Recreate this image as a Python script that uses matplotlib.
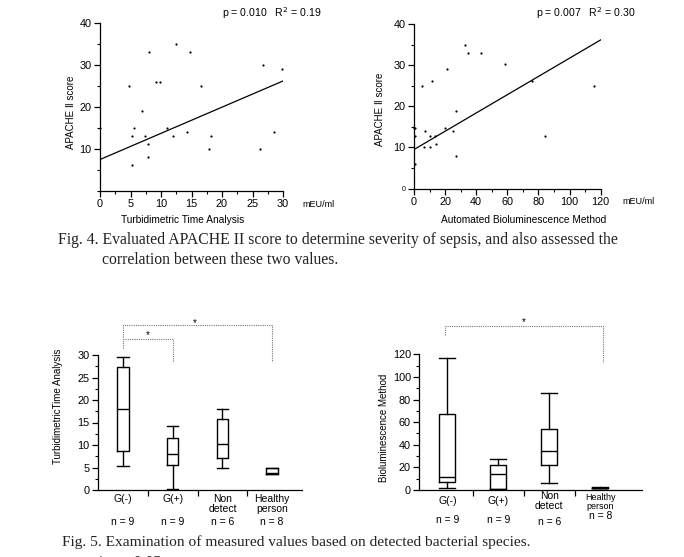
import matplotlib.pyplot as plt
import matplotlib.transforms as mtransforms
from matplotlib.ticker import MultipleLocator
import numpy as np

plt.rcParams['font.family'] = ['Liberation Sans', 'DejaVu Sans']

W, H = 684, 557

# --- Fig. 4 data: turbidimetric time analysis vs APACHE II ---
turb_x = [0, 4.8, 5.2, 5.3, 5.6, 6.9, 7.3, 8.0, 7.9, 7.9, 9.1, 9.8, 11.0, 11.9,
          12.5, 14.2, 14.8, 16.6, 17.8, 18.2, 26.3, 26.8, 28.6, 29.9]
turb_y = [15, 25, 13, 6, 15, 19, 13, 33, 11, 8, 26, 26, 15, 13,
          35, 14, 33, 25, 10, 13, 10, 30, 14, 29]
turb_fit = (7.4, 0.625)   # intercept, slope
turb_stats = 'p = 0.010   R$^2$ = 0.19'

# --- Fig. 4 data: automated bioluminescence vs APACHE II ---
bio_x = [0, 0.9, 0.4, 0.9, 4.9, 7.1, 6.4, 10.3, 10.5, 11.6, 13.3, 14.0, 20.0,
         21.3, 24.9, 27.0, 26.8, 32.6, 34.6, 42.9, 58.4, 75.8, 84.4, 115.7]
bio_y = [14.8, 14.8, 12.8, 5.9, 24.9, 14.0, 10.0, 12.7, 10.0, 26.1, 12.7, 10.8, 14.8,
         29.0, 14.0, 18.9, 8.0, 35.0, 33.0, 33.0, 30.2, 26.1, 12.8, 24.9]
bio_fit = (9.5, 0.222)
bio_stats = 'p = 0.007   R$^2$ = 0.30'

# --- Fig. 5 data: box plots by bacterial group ---
groups = ['G(-)', 'G(+)', 'Non\ndetect', 'Healthy\nperson']
group_n = ['n = 9', 'n = 9', 'n = 6', 'n = 8']
# whislo, q1, median, q3, whishi
turb_box = [[5.3, 8.6, 17.9, 27.4, 29.6],
            [0.2, 5.6, 8.0, 11.5, 14.3],
            [5.0, 7.2, 10.2, 15.7, 18.1],
            [3.5, 3.6, 3.8, 4.8, 5.0]]
bio_box = [[1.5, 7.4, 11.2, 67.5, 116.5],
           [0.9, 1.2, 13.9, 22.4, 27.4],
           [5.9, 21.8, 34.2, 54.0, 85.5],
           [1.5, 1.6, 1.8, 2.2, 2.4]]


def fx(px):
    return px / W


def fy(px):
    return 1 - px / H


def add_axes(fig, x0, x1, ytop, ybot):
    return fig.add_axes([fx(x0), fy(ybot), (x1 - x0) / W, (ybot - ytop) / H])


def style(ax):
    ax.spines['top'].set_visible(False)
    ax.spines['right'].set_visible(False)
    for s in ['left', 'bottom']:
        ax.spines[s].set_linewidth(0.9)
    ax.tick_params(which='major', length=4, width=0.9, labelsize=7.8, pad=2)
    ax.tick_params(which='minor', length=2.5, width=0.8)


fig = plt.figure(figsize=(W / 100, H / 100), dpi=100)

# ---------------- scatter panels ----------------
def scatter_panel(x0, x1, ytop, ybot, xs, ys, fit, xlim, xmaj, xmin, stats,
                  stats_xy, unit_xy, xlabel, xlabel_xy, ylabel_xy):
    ax = add_axes(fig, x0, x1, ytop, ybot)
    style(ax)
    ax.scatter(xs, ys, s=2.5, color='black', linewidths=0, clip_on=False)
    lx = np.array([0, xlim[1]])
    ax.plot(lx, fit[0] + fit[1] * lx, color='black', lw=0.9)
    ax.set_xlim(*xlim)
    ax.set_ylim(0, 40)
    ax.xaxis.set_major_locator(MultipleLocator(xmaj))
    ax.xaxis.set_minor_locator(MultipleLocator(xmin))
    ax.yaxis.set_major_locator(MultipleLocator(10))
    ax.yaxis.set_minor_locator(MultipleLocator(5))
    fig.text(fx(stats_xy[0]), fy(stats_xy[1]), stats, fontsize=7.6,
             ha='left', va='center')
    fig.text(fx(unit_xy[0]), fy(unit_xy[1]), 'mEU/ml', fontsize=6.5,
             ha='left', va='center')
    fig.text(fx(xlabel_xy[0]), fy(xlabel_xy[1]), xlabel, fontsize=7.3,
             ha='center', va='center')
    fig.text(fx(ylabel_xy[0]), fy(ylabel_xy[1]), 'APACHE Ⅱ score', fontsize=7,
             ha='center', va='center', rotation=90)
    return ax


ax1 = scatter_panel(100, 283, 23, 190.5, turb_x, turb_y, turb_fit, (0, 30),
                    5, 2.5, turb_stats, (222, 13), (302, 205),
                    'Turbidimetric Time Analysis', (183, 220), (71, 112))
ax1.set_yticks([10, 20, 30, 40])

ax2 = scatter_panel(414, 600.7, 24, 188.6, bio_x, bio_y, bio_fit, (0, 120),
                    20, 10, bio_stats, (536, 13), (622, 202),
                    'Automated Bioluminescence Method', (524, 220), (380, 109))
ax2.set_yticks([0, 10, 20, 30, 40])
ax2.get_yticklabels()[0].set_fontsize(5)

# ---------------- captions ----------------
cap = dict(family=['Liberation Serif', 'DejaVu Serif'], fontsize=11.3,
           color='#222222', ha='left', va='center')
fig.text(fx(58), fy(240), 'Fig. 4. Evaluated APACHE II score to determine severity of sepsis, '
         'and also assessed the', **cap)
fig.text(fx(102), fy(260), 'correlation between these two values.', **cap)
fig.text(fx(62), fy(542.5), 'Fig. 5. Examination of measured values based on detected '
         'bacterial species.', **dict(cap, fontsize=11.1))
fig.text(fx(97), fy(555), '* p < 0.05', **dict(cap, va='top'))


# ---------------- box plot panels ----------------
def box_panel(x0, x1, ytop, ybot, data, xlim, ylim, ymaj, ymin, width,
              ylabel, ylabel_xy, label_y, n_y, small_last=False):
    ax = add_axes(fig, x0, x1, ytop, ybot)
    style(ax)
    stats = [dict(whislo=d[0], q1=d[1], med=d[2], q3=d[3], whishi=d[4], fliers=[])
             for d in data]
    pos = np.arange(1, len(data) + 1)
    lp = dict(color='black', linewidth=1.0)
    ax.bxp(stats, positions=pos, widths=width, showfliers=False,
           boxprops=lp, medianprops=lp, whiskerprops=lp, capprops=lp,
           capwidths=width)
    ax.set_xlim(*xlim)
    ax.set_ylim(*ylim)
    ax.yaxis.set_major_locator(MultipleLocator(ymaj))
    ax.yaxis.set_minor_locator(MultipleLocator(ymin))
    ax.set_xticks(pos[:-1] + 0.5)
    ax.set_xticklabels([])
    ax.tick_params(axis='x', which='minor', length=0)
    tr = mtransforms.blended_transform_factory(ax.transData, fig.transFigure)
    for i, (g, n) in enumerate(zip(groups, group_n)):
        fs = 6.5 if (small_last and i == 3) else 7.5
        ax.text(pos[i], fy(label_y[i]), g, transform=tr, fontsize=fs,
                ha='center', va='top', linespacing=1.0)
        ax.text(pos[i], fy(n_y[i]), n, transform=tr, fontsize=7.5,
                ha='center', va='center')
    fig.text(fx(ylabel_xy[0]), fy(ylabel_xy[1]), ylabel, fontsize=7,
             ha='center', va='center', rotation=90)
    return ax, tr


def bracket(ax, tr, xa, xb, ytop, yleft, yright, star_x, star_y):
    kw = dict(color='#777777', lw=0.8, ls=(0, (1, 1)), transform=tr, clip_on=False)
    ax.plot([xa, xa, xb, xb], [fy(yleft), fy(ytop), fy(ytop), fy(yright)], **kw)
    ax.text(star_x, fy(star_y), '*', transform=tr, fontsize=7, ha='center',
            va='center')


ax3, tr3 = box_panel(97.7, 302, 355, 490, turb_box, (0.49, 4.6), (0, 30), 5, 2.5,
                     0.23, 'TurbidimetricTime Analysis', (58, 406),
                     [494, 494, 494, 494], [522, 522, 522, 522])
bracket(ax3, tr3, 1, 4, 325, 337, 362, 2.45, 323)
bracket(ax3, tr3, 1, 2, 339, 348, 362, 1.5, 335)

ax4, tr4 = box_panel(419.3, 642, 354.3, 490, bio_box, (0.45, 4.82), (0, 120), 20, 10,
                     0.31, 'Bioluminescence Method', (384, 428),
                     [496, 496, 491, 493], [520, 520, 522, 516], small_last=True)
bracket(ax4, tr4, 0.95, 4.05, 325.7, 335, 362, 2.5, 322)

fig.savefig('out.png', dpi=100)
